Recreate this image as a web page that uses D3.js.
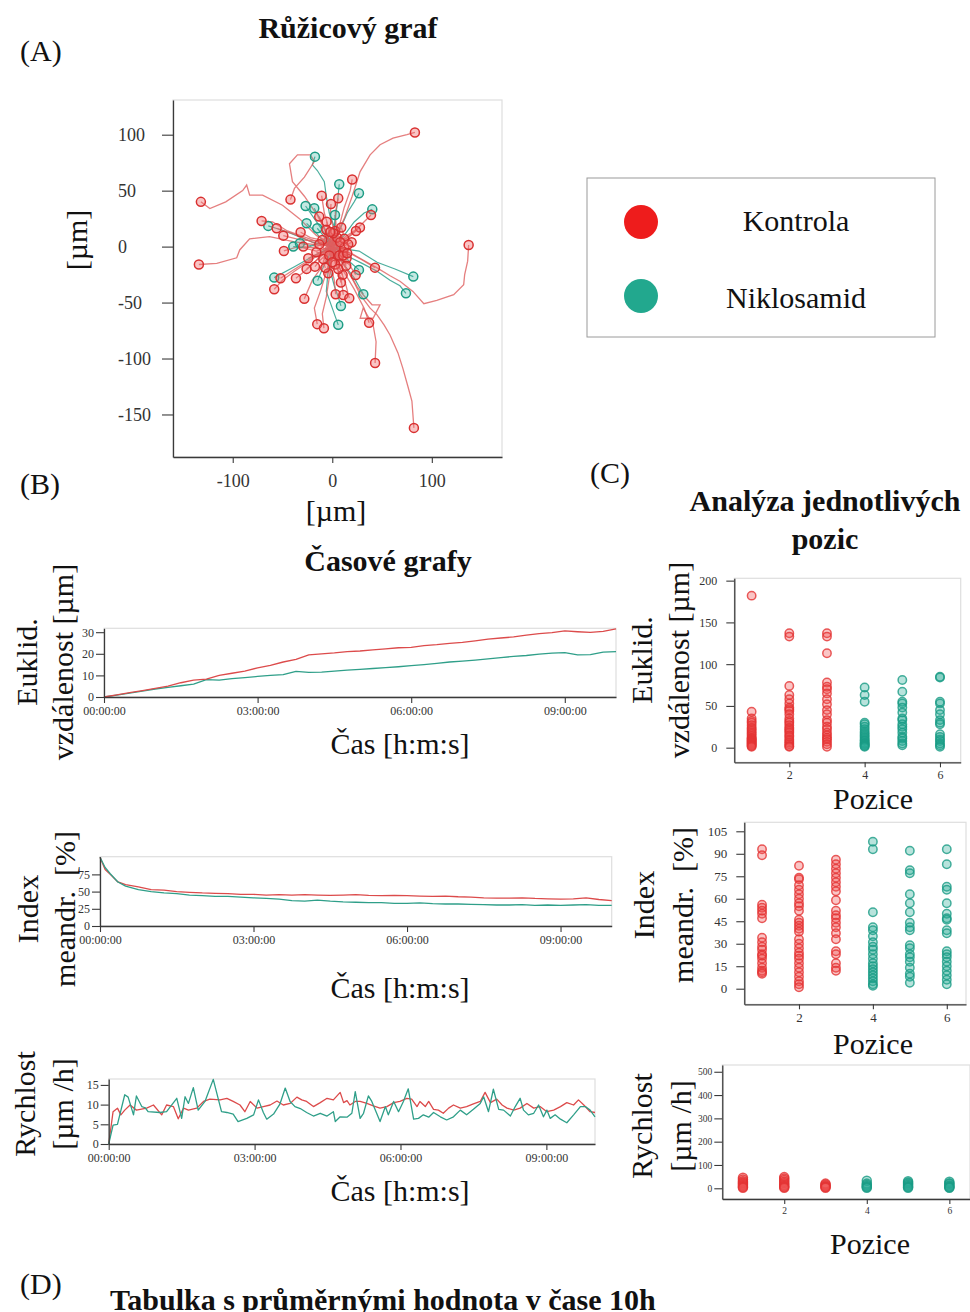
<!DOCTYPE html>
<html><head><meta charset="utf-8">
<script src="https://cdn.jsdelivr.net/npm/d3@7"></script>
<style>
body{margin:0;background:#fff}
svg{display:block}
text{font-family:"Liberation Serif","Times New Roman",serif}
</style>
</head><body>
<svg id="c" width="970" height="1312"></svg>
<script>
// ---------------- DATA ----------------
const seriesNames = ["Kontrola", "Niklosamid"];
const seriesColors = ["#ee1c1c", "#22a88e"];

// Rose plot tracks (µm); last point of each track = end point
const redTracks = [
  [[0,0],[5,12],[12,25],[20,45],[28,67],[38,82],[48,91],[61,97],[75,100],[83,102]],
  [[0,0],[-8,6],[-16,10],[-25,18],[-33,25],[-50,37],[-70,46],[-83,46],[-86,55],[-90,50],[-107,40],[-123,34],[-132,40]],
  [[0,0],[-8,1],[-16,1.5],[-28,3],[-39,4.5],[-63,9],[-83,7],[-93,-3],[-96,-10],[-116,-15],[-134,-16]],
  [[0,0],[10,-3],[21,-7],[35,-14],[45,-19],[58,-26],[68,-31],[81,-40],[92,-51],[105,-48],[122,-43],[132,-34],[133,-25],[136,-13],[137,1.5]],
  [[0,0],[6,-8],[14,-19],[22,-32],[28,-43],[38,-55],[45,-61],[52,-70],[58,-79],[66,-95],[71,-109],[76,-125],[80,-138],[82,-162]],
  [[0,0],[8,-12],[18,-25],[25,-36],[31,-43],[40,-52],[48,-52],[41,-64],[28,-64],[31,-55],[41,-70],[44,-85],[43,-104]],
  [[0,0],[10,-20],[22,-38],[32,-55],[37,-68]],
  [[0,0],[-6,12],[-15,28],[-28,45],[-40,58],[-43,74],[-35,82],[-22,82],[-18,76],[-28,62],[-38,52],[-42,42]],
  [[0,0],[6,15],[12,35],[18,50],[20,60]],
  [[0,0],[-3,15],[-8,30],[-10.7,45.5]],
  [[0,0],[2,14],[-2,27],[-1.3,38.1]],
  [[0,0],[4,16],[3,30],[6,43.2]],
  [[0,0],[-20,6],[-45,14],[-60,22],[-71,22.9]],
  [[0,0],[-18,3],[-35,10],[-55.9,16.4]],
  [[0,0],[-15,5],[-32,6],[-49.2,9.8]],
  [[0,0],[-16,-4],[-34,0],[-48.6,-3.9]],
  [[0,0],[-12,6],[-22,8],[-31.8,12.8]],
  [[0,0],[12,8],[25,16],[38.9,28.3]],
  [[0,0],[10,4],[20,12],[27.8,17]],
  [[0,0],[8,6],[16,8],[23.8,14]],
  [[0,0],[7,3],[13,1],[19.4,3.9]],
  [[0,0],[14,-4],[30,-12],[42.9,-18.8]],
  [[0,0],[8,-10],[17,-16],[23.5,-25.3]],
  [[0,0],[5,-9],[7,-18],[10.4,-25.3]],
  [[0,0],[2,-12],[6,-22],[8.7,-32.1]],
  [[0,0],[-2,-15],[2,-30],[3.4,-42.6]],
  [[0,0],[4,-16],[9,-30],[11.1,-43.2]],
  [[0,0],[6,-16],[13,-32],[17.1,-46.1]],
  [[0,0],[-8,-15],[-20,-30],[-28.1,-46.7]],
  [[0,0],[-5,-20],[-12,-40],[-18,-55],[-15.1,-69.3]],
  [[0,0],[-2,-22],[-6,-45],[-10,-60],[-8.4,-72.9]],
  [[0,0],[-18,-10],[-38,-22],[-50,-30],[-58.3,-38.1]],
  [[0,0],[-16,-8],[-34,-18],[-52,-28.3]],
  [[0,0],[-12,-9],[-25,-20],[-36.5,-28.3]],
  [[0,0],[-9,-6],[-18,-14],[-25.8,-19.9]],
  [[0,0],[-6,-7],[-12,-12],[-17.4,-17.9]],
  [[0,0],[-8,-2],[-16,-7],[-24.1,-10.4]],
  [[0,0],[-5,9],[-9,18],[-13.1,26.8]],
  [[0,0],[1,-8],[-2,-16],[-4,-23.8]],
  [[0,0],[-1,8],[-4,15],[-5.7,22.3]],
  [[0,0],[5,-2],[10,-7],[14.4,-10.4]],
  [[0,0],[-10,2],[-20,-1],[-29.1,0]],
  [[0,0],[4,-3],[-2,-6],[3,-9],[-4,-4],[2,3],[5,8]],
  [[0,0],[-3,4],[-7,2],[-5,8],[-10,6]],
  [[0,0],[3,2],[8,-2],[6,-6],[11,-5]],
  [[0,0],[-2,-4],[-6,-3],[-5,-9],[-9,-11]],
  [[0,0],[2,-5],[0,-9],[4,-12],[3,-16]],
  [[0,0],[5,3],[9,1],[12,7]],
  [[0,0],[-4,1],[-8,-2],[-13,2]],
  [[0,0],[1,5],[-1,10],[3,14]],
  [[0,0],[6,-4],[10,-10],[14,-17]],
  [[0,0],[-5,-7],[-9,-13],[-7,-19]],
  [[0,0],[-3,6],[-8,11],[-6,15]],
  [[0,0],[7,5],[11,12],[9,17]],
  [[0,0],[-6,-2],[-11,-6],[-16,-5]],
  [[0,0],[3,-7],[8,-11],[6,-20]],
  [[0,0],[-2,3],[2,6],[-1,9],[-4,4],[1,-2],[-3,-8]],
  [[0,0],[4,6],[0,9],[6,3],[2,-4],[7,-8]],
  [[0,0],[3,-2],[6,2],[9,-1],[7,-5],[4,-9],[8,-12],[11,-8]],
  [[0,0],[-2,2],[1,5],[5,4],[8,7],[5,11],[1,12]],
  [[0,0],[2,-3],[-1,-6],[2,-10],[6,-8],[9,-4],[12,-1]],
  [[0,0],[-3,-2],[-6,1],[-3,5],[0,8],[4,10],[8,4]],
  [[0,0],[4,1],[2,-3],[5,-5],[2,-8],[-2,-11],[0,-14]],
  [[0,0],[-1,-4],[3,-6],[6,-3],[9,0],[12,-4],[15,-6]],
  [[0,0],[2,4],[-2,6],[-5,3],[-8,6],[-6,10],[-2,13]],
  [[0,0],[5,-1],[3,4],[7,6],[10,3],[13,5],[16,2]]
];
const tealTracks = [
  [[0,0],[3,15],[-3,30],[-6,45],[-8,58],[-15,68],[-20,73],[-17.4,80.4]],
  [[0,0],[2,18],[5,38],[7,55.7]],
  [[0,0],[8,16],[15,30],[22,40],[26.8,47.6]],
  [[0,0],[-8,12],[-18,25],[-26.8,36.3]],
  [[0,0],[-5,12],[-12,24],[-18.1,34.2]],
  [[0,0],[12,10],[22,22],[32,30],[40.2,33.3]],
  [[0,0],[-20,4],[-42,12],[-55,16],[-64.3,18.5]],
  [[0,0],[-10,6],[-18,14],[-25.8,20.8]],
  [[0,0],[-5,5],[-10,11],[-15.1,16.4]],
  [[0,0],[-12,3],[-26,-1],[-39.2,0]],
  [[0,0],[-10,4],[-22,1],[-32.5,3]],
  [[0,0],[1,10],[3,20],[2.7,28.3]],
  [[0,0],[12,-2],[27,-4],[45,-14],[63,-20],[81.4,-26.8]],
  [[0,0],[14,-8],[30,-15],[45,-22],[58,-30],[68,-35],[74,-41.7]],
  [[0,0],[-18,-8],[-38,-18],[-58.3,-27.7]],
  [[0,0],[-4,-10],[-10,-20],[-14.7,-30.4]],
  [[0,0],[9,-6],[18,-14],[26.8,-20.8]],
  [[0,0],[10,-14],[22,-28],[31.2,-42.6]],
  [[0,0],[-3,-18],[2,-35],[6,-45],[8.7,-53]],
  [[0,0],[-4,-20],[-6,-40],[0,-55],[6,-69.9]]
];
const roseXTicks = [-100, 0, 100];
const roseYTicks = [100, 50, 0, -50, -100, -150];

// Time charts (hours)
const timeTicks = [0, 3, 6, 9];
const timeTickLabels = ["00:00:00", "03:00:00", "06:00:00", "09:00:00"];

const eukT = [0,0.25,0.5,0.75,1,1.25,1.5,1.75,2,2.25,2.5,2.75,3,3.25,3.5,3.75,4,4.25,4.5,4.75,5,5.25,5.5,5.75,6,6.25,6.5,6.75,7,7.25,7.5,7.75,8,8.25,8.5,8.75,9,9.25,9.5,9.75,10];
const eukRed = [0,1,2,3,4,5,6.6,7.8,8.3,10,11,12,13.5,14.6,16.2,17.4,19.5,20,20.4,21,21.3,21.8,22.3,22.8,23,23.8,24.2,24.8,25.3,26,26.8,27.3,27.8,28.6,29.3,29.8,30.6,30.2,29.9,30.4,31.5];
const eukTeal = [0,0.9,1.8,2.7,3.7,4.5,5.2,6,8,7.8,8.5,9,9.5,10,10.4,11.9,11.4,11.5,12,12.4,12.8,13.2,13.6,14,14.5,15,15.6,16.2,16.6,17.1,17.6,18.2,18.8,19.2,19.8,20.3,20.5,19.5,19.6,20.8,21];
const eukYTicks = [0, 10, 20, 30];

const idxT = [0,0.1,0.2,0.35,0.5,0.75,1,1.25,1.5,1.75,2,2.25,2.5,2.75,3,3.25,3.5,3.75,4,4.25,4.5,4.75,5,5.25,5.5,5.75,6,6.25,6.5,6.75,7,7.25,7.5,7.75,8,8.25,8.5,8.75,9,9.25,9.5,9.75,10];
const idxRed = [100,82,75,64,60,57,53,52,50,49,48,47.5,47,46,46,45,45.5,45,45.5,45,44.5,45,45.5,44.5,44,44.5,44,43.5,43,43.5,42.5,42,41,40.5,40.5,41,40,39.5,39,39.5,41,38.5,37];
const idxTeal = [100,85,76,64,58,53,50,48,47,45,44,43,43,42,41,40,39,37,36,37.5,36,35,34.5,34,34,33,33,33.5,32.5,32,32,31.5,31,30.5,30.5,31,30,30.5,30,30.5,31,30,30];
const idxYTicks = [0, 25, 50, 75];

const spRedT = [0,0.09,0.18,0.25,0.33,0.44,0.57,0.78,0.92,1.09,1.19,1.33,1.43,1.54,1.64,1.81,1.95,2.08,2.29,2.43,2.56,2.70,2.80,2.91,3.05,3.18,3.32,3.46,3.59,3.73,3.87,3.97,4.07,4.21,4.35,4.49,4.62,4.76,4.83,4.90,4.96,5.07,5.17,5.31,5.44,5.58,5.72,5.86,5.99,6.13,6.23,6.34,6.40,6.51,6.58,6.68,6.78,6.88,6.99,7.09,7.23,7.36,7.50,7.64,7.74,7.85,7.98,8.09,8.19,8.33,8.46,8.60,8.74,8.87,9.01,9.15,9.29,9.42,9.56,9.66,9.77,9.90,10.0];
const spRedV = [0,8.2,9.1,7.4,8.6,9.9,8.6,9.1,9.9,7.4,9.9,9.5,6.4,9.1,8.6,9.1,10.8,11.4,11.2,11.6,10.8,9.9,8.2,10.8,9.1,9.5,9.9,10.9,9.9,10.3,11.9,11.2,10.8,9.5,10.5,11.6,11.2,13.1,10.5,11,9.9,10.8,10.8,10.3,9.7,9.1,9.5,10.5,10.8,11.6,11.4,9.5,10.8,9.5,10.8,8.8,8.6,7.8,9.1,9.9,9.1,9.5,10.2,10.8,13.1,10.5,11.4,9.9,9.1,8.6,9.1,10.3,9.1,9.5,8.2,8.6,9.5,10.5,9.9,11.2,9.9,8.2,8];
const spTealT = [0,0.09,0.18,0.33,0.40,0.51,0.57,0.68,0.75,0.81,1.05,1.19,1.40,1.50,1.57,1.64,1.74,1.84,1.98,2.15,2.32,2.43,2.56,2.66,2.84,2.98,3.08,3.18,3.25,3.39,3.52,3.63,3.73,3.83,3.94,4.07,4.21,4.35,4.49,4.62,4.66,4.76,4.90,5.00,5.07,5.17,5.24,5.34,5.41,5.51,5.58,5.69,5.75,5.86,5.96,6.06,6.16,6.27,6.37,6.47,6.58,6.68,6.82,6.95,7.09,7.23,7.36,7.50,7.64,7.71,7.81,7.91,8.02,8.12,8.26,8.36,8.46,8.53,8.63,8.74,8.84,8.94,9.01,9.08,9.18,9.29,9.42,9.56,9.70,9.80,9.90,10.0];
const spTealV = [0,4.8,5,12.5,11.9,7.4,12.2,9.5,9.2,8.2,8,8.2,11.6,6.5,12,10.3,14.3,8.6,10.8,16.4,8.2,8,7.6,5.7,6.5,7.4,11.2,8,6.3,7.6,10.1,14.2,10.8,9.5,9,8,7.1,7.8,7.1,8.2,5.7,6.9,6.8,7.8,13.3,6.5,7.8,12.2,10.8,7.8,5.7,9.5,7.4,10.8,8.2,10.8,14,6.3,6.5,7.4,6.8,8,6.9,6.1,6.9,8.6,7.4,8.8,10.3,12,8.2,13.9,8.8,8.6,7.1,9.5,11.6,8.6,7.4,7.8,9.9,6.9,8.6,6.5,7.4,6.3,5.4,7.4,9.5,9.5,8.6,6.9];
const spYTicks = [0, 5, 10, 15];

// Position analysis (positions 1-3 Kontrola, 4-6 Niklosamid)
const positions = [1, 2, 3, 4, 5, 6];
const posGroup = [0, 0, 0, 1, 1, 1];
const posXTicks = [2, 4, 6];
const eukByPos = [
  [182,43,35,32,30,27,24,22,20,18,16,14,12,11,10,9,8,7,6,5,4,3,2,1],
  [137,133,74,63,58,53,48,46,44,40,35,32,30,27,24,22,20,18,15,13,10,8,6,4,2,1],
  [137,133,113,78,73,70,65,58,52,45,40,33,30,25,22,18,15,12,10,7,4,1],
  [72,63,55,30,28,25,22,19,17,15,13,11,9,8,6,5,4,3,2,1],
  [81,67,55,53,48,42,35,33,28,25,22,18,13,11,8,5,3],
  [85,84,55,53,45,40,33,30,28,16,13,10,8,5,3,1]
];
const eukPosTicks = [0, 50, 100, 150, 200];
const idxByPos = [
  [93,89,56,54,52,50,47,34,31,28,26,23,22,20,17,14,12,11,10],
  [82,74,73,69,66,63,60,57,55,52,46,44,42,40,38,33,30,27,24,22,20,17,14,11,8,5,3,1],
  [86,83,80,77,74,71,68,65,59,52,49,47,44,41,37,33,25,23,17,14,12],
  [98,93,51,41,39,35,31,28,26,23,20,17,15,13,11,9,7,5,3,2],
  [92,79,77,63,57,51,44,41,39,29,27,23,21,18,14,10,8,4],
  [93,83,68,66,57,50,47,46,39,37,25,23,21,18,15,12,9,6,3]
];
const idxPosTicks = [0, 15, 30, 45, 60, 75, 90, 105];
const spdByPos = [
  [45,38,30,25,20,15,10,5,2],
  [48,42,35,28,22,15,10,5,2],
  [20,16,12,8,5,2],
  [32,20,15,10,5,2],
  [30,25,20,15,10,5,2],
  [28,22,18,12,8,4,2]
];
const spdPosTicks = [0, 100, 200, 300, 400, 500];

// ---------------- DRAWING ----------------
const svg = d3.select("#c");
const AX = "#3a3a3a";
const lineRed = "#dc4b4b", lineTeal = "#2f9f89";
const trackRed = "rgba(222,95,95,0.8)", trackTeal = "rgba(45,160,140,0.85)";
const plain = d => String(d);

function txt(s, x, y, o = {}) {
  const t = svg.append("text")
    .attr("font-size", o.size || 30)
    .attr("font-weight", o.weight || "normal")
    .attr("text-anchor", o.anchor || "middle")
    .attr("dominant-baseline", "central")
    .attr("fill", "#111")
    .style("white-space", "pre")
    .text(s);
  if (o.rotate) t.attr("transform", `translate(${x},${y}) rotate(-90)`);
  else t.attr("x", x).attr("y", y);
  return t;
}
function frame(xs, ys) {
  const [x0, x1] = xs.range(), [y0, y1] = ys.range();
  svg.append("rect").attr("x", x0).attr("y", y1).attr("width", x1 - x0).attr("height", y0 - y1)
    .attr("fill", "none").attr("stroke", "#dedede").attr("stroke-width", 1.2);
}
function styleAxis(g, fs) {
  g.selectAll("path.domain").attr("stroke", AX).attr("stroke-width", 1.3);
  g.selectAll(".tick line").attr("stroke", AX).attr("stroke-width", 1.1);
  g.selectAll(".tick text").attr("font-size", fs).attr("fill", "#333")
    .attr("font-family", '"Liberation Serif","Times New Roman",serif');
}

// ---- Titles & panel letters
txt("(A)", 20, 50, {anchor: "start"});
txt("Růžicový graf", 348, 27, {weight: "bold"});
txt("(B)", 20, 483, {anchor: "start"});
txt("(C)", 590, 472, {anchor: "start"});
txt("Analýza jednotlivých", 825, 500, {weight: "bold"});
txt("pozic", 825, 538, {weight: "bold"});
txt("Časové grafy", 388, 560, {weight: "bold"});
txt("(D)", 20, 1283, {anchor: "start"});
txt("Tabulka s průměrnými hodnota v čase 10h", 110, 1299, {weight: "bold", anchor: "start"});

// ---- Rose plot
const rx = d3.scaleLinear().domain([-160, 170.5]).range([173, 502]);
const ry = d3.scaleLinear().domain([-188, 131]).range([457, 100]);
frame(rx, ry);
const rline = d3.line().x(d => rx(d[0])).y(d => ry(d[1]));
svg.append("g").selectAll("path").data(tealTracks).join("path")
  .attr("d", rline).attr("fill", "none").attr("stroke", trackTeal).attr("stroke-width", 1.2);
svg.append("g").selectAll("path").data(redTracks).join("path")
  .attr("d", rline).attr("fill", "none").attr("stroke", trackRed).attr("stroke-width", 1.3);
svg.append("g").selectAll("circle").data(tealTracks).join("circle")
  .attr("cx", d => rx(d[d.length - 1][0])).attr("cy", d => ry(d[d.length - 1][1])).attr("r", 4.5)
  .attr("fill", "rgba(60,180,160,0.3)").attr("stroke", "#1c9c84").attr("stroke-width", 1.5);
svg.append("g").selectAll("circle").data(redTracks).join("circle")
  .attr("cx", d => rx(d[d.length - 1][0])).attr("cy", d => ry(d[d.length - 1][1])).attr("r", 4.5)
  .attr("fill", "rgba(240,110,110,0.4)").attr("stroke", "#d93030").attr("stroke-width", 1.5);
const rya = svg.append("g").attr("transform", `translate(${rx.range()[0]},0)`)
  .call(d3.axisLeft(ry).tickValues(roseYTicks).tickFormat(plain).tickSize(11).tickSizeOuter(0));
styleAxis(rya, 18);
rya.selectAll(".tick text").attr("x", -55).attr("text-anchor", "start");
const rxa = svg.append("g").attr("transform", `translate(0,${ry.range()[0]})`)
  .call(d3.axisBottom(rx).tickValues(roseXTicks).tickFormat(plain).tickSize(6).tickPadding(11).tickSizeOuter(0));
styleAxis(rxa, 18);
txt("[µm]", 76, 240, {rotate: true});
txt("[µm]", 336, 510);

// ---- Legend
svg.append("rect").attr("x", 587).attr("y", 178).attr("width", 348).attr("height", 159)
  .attr("fill", "none").attr("stroke", "#9a9a9a").attr("stroke-width", 1);
seriesNames.forEach((n, i) => {
  const cy = [222, 296][i];
  svg.append("circle").attr("cx", 641).attr("cy", cy).attr("r", 17).attr("fill", seriesColors[i]);
  txt(n, 796, cy + [-2, 1][i]);
});

// ---- Time charts
function timeChart(c) {
  const x = d3.scaleLinear().domain([0, 10]).range([c.x0, c.x1]);
  const y = d3.scaleLinear().domain([0, c.ymax]).range([c.y0, c.y1]);
  frame(x, y);
  const ln = (T, V) => d3.line().x((d, i) => x(T[i])).y(d => y(d))(V);
  c.series.forEach(s => svg.append("path").attr("d", ln(s[0], s[1])).attr("fill", "none")
    .attr("stroke", s[2]).attr("stroke-width", 1.3).attr("stroke-linejoin", "round"));
  const ya = svg.append("g").attr("transform", `translate(${c.x0},0)`)
    .call(d3.axisLeft(y).tickValues(c.yTicks).tickFormat(plain).tickSize(8).tickPadding(2).tickSizeOuter(0));
  styleAxis(ya, 12);
  const xa = svg.append("g").attr("transform", `translate(0,${c.y0})`)
    .call(d3.axisBottom(x).tickValues(timeTicks).tickSize(6).tickPadding(3).tickSizeOuter(0)
      .tickFormat((d, i) => timeTickLabels[i]));
  styleAxis(xa, 12);
  txt(c.l1, c.l1x, c.ly, {rotate: true});
  txt(c.l2, c.l2x, c.ly, {rotate: true});
  txt("Čas [h:m:s]", 400, c.xly);
}
timeChart({x0: 104, x1: 616, y0: 697, y1: 628.3, ymax: 31.8, yTicks: eukYTicks,
  series: [[eukT, eukTeal, lineTeal], [eukT, eukRed, lineRed]],
  l1: "Euklid.", l1x: 26, l2: "vzdálenost [µm]", l2x: 62, ly: 662, xly: 743});
timeChart({x0: 100, x1: 611.7, y0: 926, y1: 856.7, ymax: 100.7, yTicks: idxYTicks,
  series: [[idxT, idxRed, lineRed], [idxT, idxTeal, lineTeal]],
  l1: "Index", l1x: 27, l2: "meandr.  [%]", l2x: 64, ly: 909, xly: 987});
timeChart({x0: 108.7, x1: 595, y0: 1144, y1: 1079, ymax: 16.5, yTicks: spYTicks,
  series: [[spRedT, spRedV, lineRed], [spTealT, spTealV, lineTeal]],
  l1: "Rychlost", l1x: 24, l2: "[µm /h]", l2x: 62, ly: 1104, xly: 1190});

// ---- Position scatter charts
const ptFill = ["rgba(240,80,80,0.33)", "rgba(40,170,150,0.33)"];
const ptStroke = ["rgba(228,50,50,0.8)", "rgba(25,155,132,0.8)"];
function posChart(c) {
  const x = d3.scaleLinear().domain(c.xd).range([c.x0, c.x1]);
  const y = d3.scaleLinear().domain(c.yd).range([c.y0, c.y1]);
  frame(x, y);
  const g = svg.append("g");
  positions.forEach((p, i) => {
    g.append("g").selectAll("circle").data(c.data[i]).join("circle")
      .attr("cx", x(p)).attr("cy", d => y(d)).attr("r", c.r)
      .attr("fill", ptFill[posGroup[i]]).attr("stroke", ptStroke[posGroup[i]]).attr("stroke-width", 1.5);
  });
  const ya = svg.append("g").attr("transform", `translate(${c.x0},0)`)
    .call(d3.axisLeft(y).tickValues(c.yTicks).tickFormat(plain).tickSize(8).tickPadding(c.yPad).tickSizeOuter(0));
  styleAxis(ya, c.fs);
  const xa = svg.append("g").attr("transform", `translate(0,${c.y0})`)
    .call(d3.axisBottom(x).tickValues(posXTicks).tickFormat(plain).tickSize(5).tickPadding(3).tickSizeOuter(0));
  styleAxis(xa, c.fs);
  txt(c.l1, c.l1x, c.ly, {rotate: true});
  txt(c.l2, c.l2x, c.ly, {rotate: true});
  txt("Pozice", c.xlx, c.xly);
}
posChart({x0: 734.3, x1: 960.7, y0: 762.3, y1: 578.3, xd: [0.54, 6.55], yd: [-17.5, 202.8],
  data: eukByPos, yTicks: eukPosTicks, fs: 12, yPad: 9, r: 4.2,
  l1: "Euklid.", l1x: 641, l2: "vzdálenost [µm]", l2x: 678, ly: 660, xlx: 873, xly: 798});
posChart({x0: 744.3, x1: 966, y0: 1004.3, y1: 822.3, xd: [0.52, 6.52], yd: [-10.4, 111],
  data: idxByPos, yTicks: idxPosTicks, fs: 13, yPad: 9, r: 4.2,
  l1: "Index", l1x: 643, l2: "meandr.  [%]", l2x: 682, ly: 905, xlx: 873, xly: 1043});
posChart({x0: 722.3, x1: 970, y0: 1199, y1: 1065, xd: [0.5, 6.5], yd: [-46, 529],
  data: spdByPos, yTicks: spdPosTicks, fs: 9.5, yPad: 2, r: 4.5,
  l1: "Rychlost", l1x: 641, l2: "[µm /h]", l2x: 680, ly: 1126, xlx: 870, xly: 1243});
</script>
</body></html>
